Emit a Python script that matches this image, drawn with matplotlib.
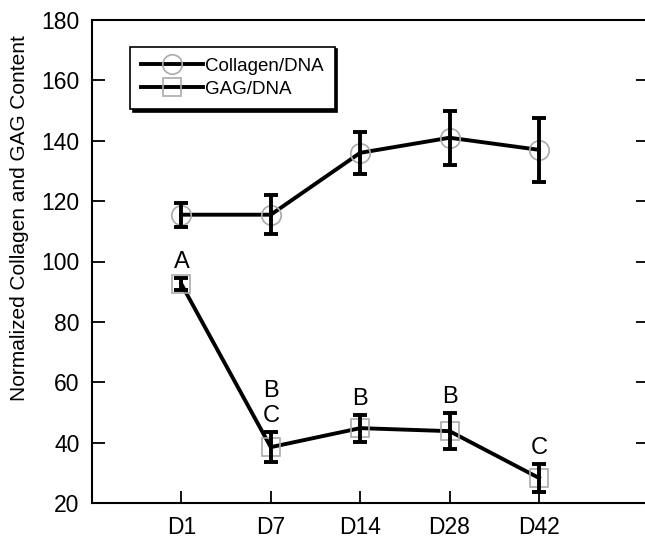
import numpy as np
import matplotlib.pyplot as plt

plt.rcParams['font.family'] = ['Liberation Sans', 'DejaVu Sans']

days = ['D1', 'D7', 'D14', 'D28', 'D42']
collagen = [115.5, 115.5, 136.0, 141.0, 137.0]
collagen_err = [4.0, 6.5, 7.0, 9.0, 10.5]
gag = [92.5, 38.5, 44.8, 43.8, 28.3]
gag_err = [2.0, 5.0, 4.5, 6.0, 4.7]
letters = [['A'], ['B', 'C'], ['B'], ['B'], ['C']]

x = np.arange(1, len(days) + 1)

fig = plt.figure(figsize=(6.45, 5.4), dpi=100)
ax = fig.add_axes([92/645, 1 - 503/540, (648 - 92)/645, (503 - 20)/540])

err_kw = dict(fmt='none', ecolor='black', elinewidth=2.8, capsize=5, capthick=2.8, zorder=3)
ax.errorbar(x, collagen, yerr=collagen_err, **err_kw)
ax.errorbar(x, gag, yerr=gag_err, **err_kw)
ax.plot(x, collagen, color='black', lw=2.8, marker='o', ms=14, mfc='none',
        mec='#aaaaaa', mew=1.2, label='Collagen/DNA', zorder=2)
ax.plot(x, gag, color='black', lw=2.8, marker='s', ms=13, mfc='none',
        mec='#aaaaaa', mew=1.2, label='GAG/DNA', zorder=2)

# significance letters above the GAG error bars
for xi, yi, ei, labs in zip(x, gag, gag_err, letters):
    for k, t in enumerate(reversed(labs)):
        ax.text(xi, yi + ei + 5.2 + 8.5*k, t, ha='center', va='center', fontsize=17)

ax.set_xlim(0, 6.22)
ax.set_ylim(20, 180)
ax.set_xticks(x)
ax.set_xticklabels(days)
ax.set_yticks(np.arange(20, 181, 20))
ax.tick_params(axis='both', direction='in', length=9, width=1.3, labelsize=16.5,
               top=False, right=True, pad=9)
for s in ax.spines.values():
    s.set_linewidth(1.5)
ax.set_ylabel('Normalized Collagen and GAG Content', fontsize=15)
ax.yaxis.set_label_coords(-0.114, 0.59)

leg = ax.legend(loc='upper left', bbox_to_anchor=(0.068, 0.945), fontsize=13.5,
                frameon=True, fancybox=False, shadow={'color': 'black', 'alpha': 1},
                edgecolor='black', handlelength=3.3, handletextpad=0.1,
                borderpad=0.6, labelspacing=0.3, borderaxespad=0)
leg.get_frame().set_linewidth(1.2)

fig.savefig('out.png', dpi=100)
